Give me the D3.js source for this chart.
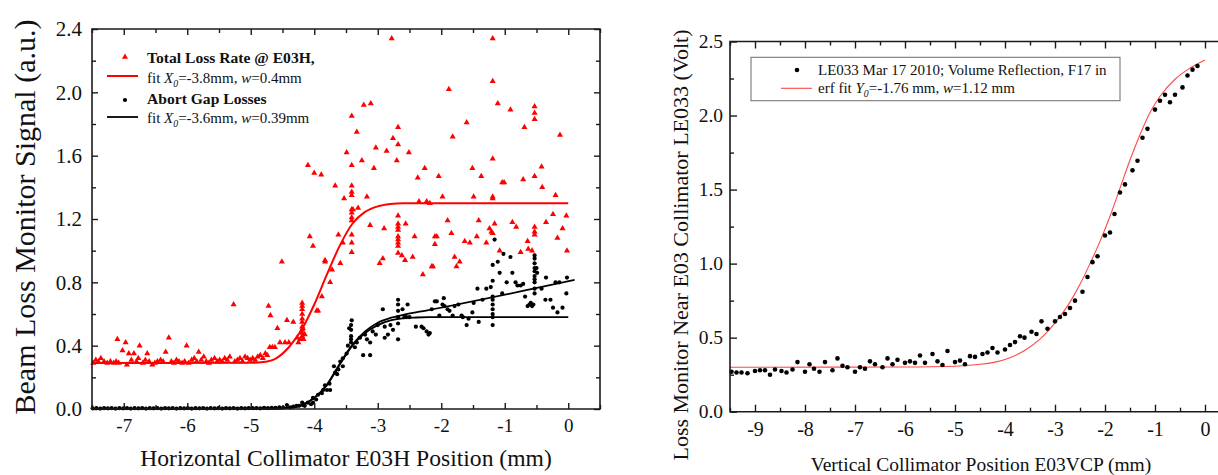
<!DOCTYPE html>
<html><head><meta charset="utf-8">
<script src="https://cdn.jsdelivr.net/npm/d3@7"></script>
<style>body{margin:0;background:#fff}svg{display:block}svg text{font-family:"Liberation Serif","Times New Roman",serif !important}</style>
</head><body><svg id="c" width="1218" height="475"></svg>
<script>
// ---------- LEFT PANEL DATA ----------
const leftXTicks = [-7,-6,-5,-4,-3,-2,-1,0];
const leftYTicks = [0,0.4,0.8,1.2,1.6,2.0,2.4];
const totalLoss = [[-7.48,0.29],[-7.44,0.31],[-7.40,0.30],[-7.36,0.32],[-7.31,0.30],[-7.26,0.29],[-7.21,0.30],[-7.16,0.29],[-7.12,0.30],[-7.08,0.29],[-7.10,0.44],[-7.02,0.37],[-6.97,0.42],[-6.95,0.28],[-6.92,0.35],[-6.88,0.31],[-6.84,0.35],[-6.80,0.30],[-6.75,0.40],[-6.77,0.32],[-6.70,0.29],[-6.66,0.31],[-6.63,0.35],[-6.60,0.30],[-6.55,0.28],[-6.51,0.29],[-6.47,0.30],[-6.42,0.31],[-6.38,0.30],[-6.34,0.36],[-6.29,0.45],[-6.25,0.30],[-6.21,0.29],[-6.17,0.31],[-6.13,0.30],[-6.08,0.29],[-6.04,0.30],[-6.01,0.40],[-5.98,0.29],[-5.93,0.31],[-5.89,0.32],[-5.85,0.30],[-5.82,0.36],[-5.78,0.31],[-5.74,0.33],[-5.70,0.30],[-5.66,0.29],[-5.62,0.31],[-5.57,0.32],[-5.53,0.30],[-5.49,0.31],[-5.45,0.30],[-5.41,0.32],[-5.37,0.31],[-5.33,0.33],[-5.27,0.66],[-5.25,0.30],[-5.21,0.31],[-5.17,0.32],[-5.13,0.30],[-5.09,0.33],[-5.05,0.32],[-5.01,0.31],[-4.97,0.32],[-4.93,0.31],[-4.89,0.33],[-4.85,0.34],[-4.81,0.32],[-4.77,0.35],[-4.74,0.34],
[-4.72,0.65],[-4.69,0.59],[-4.70,0.39],[-4.66,0.39],[-4.62,0.39],[-4.58,0.51],[-4.51,0.93],[-4.54,0.42],[-4.46,0.42],[-4.40,0.42],[-4.43,0.56],[-4.33,0.55],[-4.27,0.45],[-4.25,0.42],[-4.22,0.44],[-4.19,0.67],[-4.19,0.65],[-4.19,0.63],[-4.19,0.60],[-4.19,0.57],[-4.19,0.55],[-4.19,0.52],[-4.19,0.50],[-4.19,0.48],[-4.19,0.46],[-4.17,0.44],[-4.18,0.51],[-4.15,0.47],[-4.07,1.09],[-4.02,1.03],[-4.10,1.54],[-4.00,1.49],[-3.89,1.48],[-3.96,0.62],[-3.94,0.62],[-3.88,0.71],[-3.83,0.94],[-3.83,0.93],[-3.75,0.80],[-3.72,0.88],[-3.67,1.41],[-3.62,1.10],[-3.59,0.92],[-3.55,1.05],[-3.53,1.33],[-3.49,1.62],[-3.41,1.85],[-3.41,1.54],[-3.41,1.41],[-3.41,1.37],[-3.41,1.35],[-3.41,1.26],[-3.41,1.24],[-3.41,1.21],[-3.41,1.19],[-3.41,1.10],[-3.41,1.05],[-3.41,0.99],[-3.39,1.26],[-3.33,1.75],[-3.31,1.27],[-3.25,1.57],[-3.22,1.92],[-3.17,1.34],[-3.12,1.16],[-3.11,1.93],[-3.06,1.52],[-3.03,1.65],[-2.97,0.92],[-2.92,0.95],[-2.90,1.14],[-2.86,1.63],[-2.78,2.34],[-2.76,1.71],[-2.70,1.57],[-2.68,1.78],[-2.68,1.67],[-2.68,1.22],[-2.68,1.17],[-2.68,1.15],[-2.68,1.13],[-2.68,1.09],[-2.68,1.07],[-2.68,1.05],[-2.68,1.03],[-2.68,0.985],[-2.62,0.97],[-2.57,0.94],[-2.56,1.17],[-2.51,1.62],[-2.45,0.96],[-2.42,1.09],[-2.37,1.46],[-2.35,1.31],[-2.29,0.85],[-2.26,1.52],[-2.23,1.31],[-2.18,1.30],[-2.15,0.90],[-2.13,0.90],[-2.10,1.09],[-2.10,1.04],[-2.07,1.09],[-2.04,1.47],[-1.98,1.34],[-1.90,1.19],[-1.88,2.02],[-1.84,1.11],[-1.82,1.72],[-1.79,0.96],[-1.76,0.90],[-1.71,0.93],[-1.63,1.06],[-1.60,1.81],[-1.55,1.05],[-1.51,1.52],[-1.49,1.34],[-1.44,1.09],[-1.41,1.19],[-1.37,1.47],[-1.29,1.05],[-1.24,1.14],[-1.21,1.12],[-1.19,2.34],[-1.19,2.07],[-1.19,1.58],[-1.19,1.34],[-1.19,1.33],[-1.19,1.11],[-1.16,1.17],[-1.11,1.93],[-1.08,1.00],[-1.04,1.43],[-1.01,1.43],[-0.91,1.89],[-0.88,1.18],[-0.82,1.15],[-0.75,0.99],[-0.71,1.45],[-0.69,1.78],[-0.64,1.06],[-0.63,1.01],[-0.57,1.00],[-0.53,1.91],[-0.53,1.87],[-0.53,1.83],[-0.53,1.47],[-0.53,1.15],[-0.53,1.12],[-0.53,1.10],[-0.42,1.53],[-0.41,1.40],[-0.35,1.18],[-0.24,1.23],[-0.20,1.35],[-0.17,1.08],[-0.13,1.73],[-0.09,1.14],[-0.03,1.22],[-0.02,1.00]];
const abortGap = [[-7.49,0.004],[-7.43,0.006],[-7.37,0.003],[-7.31,0.005],[-7.25,0.004],[-7.19,0.006],[-7.13,0.003],[-7.07,0.005],[-7.01,0.004],[-6.95,0.006],[-6.89,0.003],[-6.83,0.005],[-6.77,0.004],[-6.71,0.006],[-6.65,0.003],[-6.59,0.005],[-6.53,0.004],[-6.47,0.006],[-6.41,0.003],[-6.35,0.005],[-6.29,0.004],[-6.23,0.006],[-6.17,0.003],[-6.11,0.005],[-6.05,0.004],[-5.99,0.006],[-5.93,0.003],[-5.87,0.005],[-5.81,0.004],[-5.75,0.006],[-5.69,0.003],[-5.63,0.005],[-5.57,0.004],[-5.51,0.006],[-5.45,0.003],[-5.39,0.005],[-5.33,0.004],[-5.27,0.006],[-5.21,0.003],[-5.15,0.005],[-5.09,0.004],[-5.03,0.006],[-4.97,0.005],[-4.91,0.006],[-4.85,0.004],[-4.79,0.007],[-4.73,0.006],[-4.67,0.008],[-4.61,0.007],[-4.55,0.010],[-4.49,0.009],
[-4.43,0.025],[-4.38,0.01],[-4.33,0.015],[-4.28,0.02],[-4.24,0.02],[-4.19,0.04],[-4.18,0.025],[-4.15,0.02],[-4.10,0.04],[-4.05,0.03],[-4.02,0.04],[-4.02,0.07],[-3.97,0.06],[-3.94,0.09],[-3.88,0.10],[-3.86,0.12],[-3.83,0.15],[-3.80,0.12],[-3.76,0.16],[-3.75,0.12],[-3.69,0.27],[-3.67,0.23],[-3.64,0.22],[-3.62,0.25],[-3.59,0.30],[-3.55,0.32],[-3.55,0.27],[-3.49,0.35],[-3.47,0.40],[-3.42,0.42],[-3.42,0.44],[-3.42,0.46],[-3.42,0.50],[-3.42,0.53],[-3.45,0.51],[-3.41,0.56],[-3.36,0.39],[-3.33,0.42],[-3.28,0.45],[-3.23,0.34],[-3.20,0.47],[-3.17,0.44],[-3.12,0.42],[-3.12,0.34],[-3.08,0.49],[-3.03,0.47],[-3.00,0.53],[-2.92,0.63],[-2.89,0.52],[-2.89,0.45],[-2.84,0.47],[-2.80,0.53],[-2.76,0.50],[-2.68,0.69],[-2.68,0.66],[-2.68,0.62],[-2.68,0.58],[-2.68,0.54],[-2.68,0.44],[-2.61,0.63],[-2.58,0.58],[-2.53,0.66],[-2.55,0.58],[-2.50,0.58],[-2.40,0.52],[-2.31,0.52],[-2.28,0.51],[-2.23,0.49],[-2.20,0.47],[-2.18,0.48],[-2.15,0.63],[-2.10,0.68],[-2.07,0.68],[-2.03,0.59],[-1.96,0.70],[-1.98,0.66],[-1.95,0.65],[-1.90,0.63],[-1.87,0.62],[-1.82,0.59],[-1.79,0.65],[-1.73,0.66],[-1.68,0.59],[-1.66,0.58],[-1.60,0.53],[-1.57,0.57],[-1.51,0.61],[-1.49,0.67],[-1.43,0.76],[-1.41,0.55],[-1.35,0.69],[-1.29,0.76],[-1.22,0.77],[-1.19,0.81],[-1.19,0.91],[-1.19,0.71],[-1.19,0.69],[-1.19,0.66],[-1.19,0.63],[-1.19,0.60],[-1.19,0.58],[-1.19,0.53],[-1.16,1.07],[-1.11,0.93],[-1.08,0.86],[-1.04,0.73],[-1.02,0.98],[-0.97,0.80],[-0.91,0.96],[-0.88,0.86],[-0.83,0.80],[-0.80,0.78],[-0.75,0.78],[-0.71,0.79],[-0.68,0.71],[-0.64,0.65],[-0.61,0.66],[-0.59,0.67],[-0.57,0.65],[-0.55,0.66],[-0.53,0.97],[-0.53,0.95],[-0.53,0.92],[-0.53,0.89],[-0.53,0.87],[-0.53,0.84],[-0.53,0.82],[-0.53,0.80],[-0.53,0.76],[-0.53,0.73],[-0.50,0.89],[-0.49,0.86],[-0.42,0.76],[-0.35,0.83],[-0.36,0.69],[-0.28,0.69],[-0.24,0.64],[-0.17,0.61],[-0.20,0.80],[-0.14,0.80],[-0.09,0.64],[-0.03,0.73],[-0.02,0.83]];
const totalLossFit = [[-7.5,0.29],[-5.0,0.292],[-4.8,0.297],[-4.6,0.32],[-4.4,0.39],[-4.2,0.50],[-4.0,0.66],[-3.8,0.85],[-3.6,1.03],[-3.4,1.17],[-3.2,1.245],[-3.0,1.28],[-2.8,1.295],[-2.6,1.30],[0,1.30]];
const abortFitFlat = [[-7.5,0.0],[-4.6,0.002],[-4.4,0.008],[-4.2,0.025],[-4.0,0.07],[-3.8,0.15],[-3.6,0.28],[-3.4,0.40],[-3.2,0.48],[-3.0,0.53],[-2.8,0.56],[-2.6,0.573],[-2.4,0.578],[-2.2,0.58],[0,0.58]];
const abortFitSlope = [[-7.5,0.0],[-4.6,0.002],[-4.4,0.008],[-4.2,0.025],[-4.0,0.07],[-3.8,0.155],[-3.6,0.285],[-3.4,0.405],[-3.2,0.49],[-3.0,0.545],[-2.8,0.575],[-2.6,0.595],[-2.2,0.625],[0.1,0.815]];

// ---------- RIGHT PANEL DATA ----------
const rightXTicks = [-9,-8,-7,-6,-5,-4,-3,-2,-1,0];
const rightYTicks = [0,0.5,1.0,1.5,2.0,2.5];
const le033 = [[-9.47,0.27],[-9.37,0.265],[-9.27,0.265],[-9.15,0.26],[-9.0,0.275],[-8.9,0.28],[-8.8,0.28],[-8.7,0.25],[-8.6,0.285],[-8.47,0.275],[-8.37,0.265],[-8.25,0.285],[-8.15,0.335],[-8.0,0.27],[-7.91,0.32],[-7.82,0.29],[-7.71,0.27],[-7.6,0.335],[-7.45,0.28],[-7.35,0.36],[-7.25,0.31],[-7.15,0.30],[-7.0,0.27],[-6.9,0.30],[-6.8,0.29],[-6.7,0.34],[-6.6,0.32],[-6.45,0.30],[-6.35,0.36],[-6.25,0.32],[-6.15,0.35],[-6.0,0.33],[-5.9,0.34],[-5.8,0.33],[-5.7,0.38],[-5.6,0.33],[-5.45,0.39],[-5.35,0.34],[-5.25,0.315],[-5.15,0.41],[-5.0,0.335],[-4.9,0.345],[-4.8,0.32],[-4.7,0.375],[-4.6,0.37],[-4.45,0.39],[-4.35,0.40],[-4.25,0.43],[-4.15,0.40],[-4.0,0.42],[-3.9,0.45],[-3.8,0.47],[-3.7,0.51],[-3.61,0.50],[-3.47,0.54],[-3.37,0.525],[-3.27,0.61],[-3.15,0.56],[-3.0,0.61],[-2.9,0.64],[-2.8,0.66],[-2.7,0.70],[-2.6,0.75],[-2.45,0.81],[-2.35,0.91],[-2.25,1.01],[-2.15,1.05],[-2.0,1.19],[-1.9,1.21],[-1.81,1.335],[-1.7,1.48],[-1.6,1.535],[-1.45,1.63],[-1.35,1.695],[-1.25,1.85],[-1.15,1.91],[-1.0,2.04],[-0.9,2.10],[-0.8,2.14],[-0.7,2.09],[-0.6,2.14],[-0.45,2.19],[-0.35,2.27],[-0.25,2.31],[-0.15,2.335]];
const le033Fit = [[-9.5,0.30],[-6.0,0.302],[-5.0,0.307],[-4.5,0.32],[-4.2,0.335],[-3.9,0.365],[-3.6,0.415],[-3.3,0.49],[-3.0,0.60],[-2.7,0.74],[-2.5,0.86],[-2.3,1.0],[-2.1,1.15],[-1.9,1.32],[-1.7,1.51],[-1.5,1.70],[-1.3,1.87],[-1.1,2.02],[-0.9,2.13],[-0.6,2.245],[-0.3,2.32],[0,2.375]];

const SERIF = "'Liberation Serif','Times New Roman',serif";
const svg = d3.select("#c");
svg.append("rect").attr("width",1218).attr("height",475).attr("fill","#fff");
const AX = "#1a1a1a";

function styleLabels(a, fs) {
  a.attr("font-family", null).style("font-family", SERIF);
  a.selectAll("text").attr("font-size",fs).attr("fill","#111").style("font-family",SERIF);
}
function frameAxes(g, x, y, opt) {
  const [x0,x1] = x.range(), [y0,y1] = y.range();
  const fmtX = d => String(d);
  g.append("g").attr("transform",`translate(0,${y0})`)
    .call(d3.axisBottom(x).tickValues(opt.xt).tickFormat(fmtX).tickSize(-opt.maj).tickPadding(opt.xpad))
    .call(a=>{a.select(".domain").remove();styleLabels(a,opt.xfs);});
  g.append("g").attr("transform",`translate(0,${y0})`)
    .call(d3.axisBottom(x).tickValues(opt.xm).tickFormat("").tickSize(-opt.min))
    .call(a=>a.select(".domain").remove());
  g.append("g").attr("transform",`translate(0,${y1})`)
    .call(d3.axisTop(x).tickValues(opt.xt).tickFormat("").tickSize(-opt.maj))
    .call(a=>a.select(".domain").remove());
  g.append("g").attr("transform",`translate(0,${y1})`)
    .call(d3.axisTop(x).tickValues(opt.xm).tickFormat("").tickSize(-opt.min))
    .call(a=>a.select(".domain").remove());
  g.append("g").attr("transform",`translate(${x0},0)`)
    .call(d3.axisLeft(y).tickValues(opt.yt).tickFormat(d3.format(".1f")).tickSize(-opt.maj).tickPadding(opt.ypad))
    .call(a=>{a.select(".domain").remove();styleLabels(a,opt.yfs);});
  g.append("g").attr("transform",`translate(${x0},0)`)
    .call(d3.axisLeft(y).tickValues(opt.ym).tickFormat("").tickSize(-opt.min))
    .call(a=>a.select(".domain").remove());
  if (opt.right) {
    g.append("g").attr("transform",`translate(${x1},0)`)
      .call(d3.axisRight(y).tickValues(opt.yt).tickFormat("").tickSize(-opt.maj))
      .call(a=>a.select(".domain").remove());
    g.append("g").attr("transform",`translate(${x1},0)`)
      .call(d3.axisRight(y).tickValues(opt.ym).tickFormat("").tickSize(-opt.min))
      .call(a=>a.select(".domain").remove());
  }
  g.selectAll(".tick line").attr("stroke",AX).attr("stroke-width",1.4);
  const p = opt.right ? `M${x0},${y1}H${x1}V${y0}H${x0}Z` : `M${x1},${y1}H${x0}V${y0}H${x1}`;
  g.append("path").attr("d",p).attr("fill","none").attr("stroke",AX).attr("stroke-width",1.6);
}

// ---------- LEFT ----------
const xL = d3.scaleLinear([-7.5,0.5],[92,600]);
const yL = d3.scaleLinear([0,2.4],[409,29]);
const gL = svg.append("g");
const lineL = d3.line().x(d=>xL(d[0])).y(d=>yL(d[1])).curve(d3.curveMonotoneX);
gL.append("path").datum(totalLossFit).attr("d",lineL).attr("fill","none").attr("stroke","#ff0000").attr("stroke-width",2);
gL.append("path").datum(abortFitFlat).attr("d",lineL).attr("fill","none").attr("stroke","#000").attr("stroke-width",1.8);
gL.append("path").datum(abortFitSlope).attr("d",lineL).attr("fill","none").attr("stroke","#000").attr("stroke-width",1.8);
const tri = d3.symbol().type(d3.symbolTriangle).size(16);
gL.append("g").selectAll("path").data(totalLoss).join("path")
  .attr("d",tri).attr("transform",d=>`translate(${xL(d[0])},${yL(d[1])})`).attr("fill","#ff0000");
gL.append("g").selectAll("circle").data(abortGap).join("circle")
  .attr("cx",d=>xL(d[0])).attr("cy",d=>yL(d[1])).attr("r",2.1).attr("fill","#000");
frameAxes(gL, xL, yL, {xt:leftXTicks, xm:d3.range(-7.5,0.51,0.5).filter(v=>!Number.isInteger(v)), yt:leftYTicks, ym:[0.2,0.6,1.0,1.4,1.8,2.2], maj:6, min:4, xpad:10, ypad:10, xfs:19, yfs:21, right:true});
gL.append("text").attr("x",346).attr("y",466).attr("text-anchor","middle").attr("font-size",23.6).attr("fill","#111").text("Horizontal Collimator E03H Position (mm)");
gL.append("text").attr("transform","translate(35,217) rotate(-90)").attr("text-anchor","middle").attr("font-size",30).attr("fill","#111").text("Beam Loss Monitor Signal (a.u.)");
// legend
gL.append("path").attr("d",tri).attr("transform","translate(125,57)").attr("fill","#ff0000");
gL.append("text").attr("x",147).attr("y",63).attr("font-size",15.6).attr("font-weight","bold").attr("fill","#111").text("Total Loss Rate @ E03H,");
gL.append("line").attr("x1",107).attr("x2",138).attr("y1",76).attr("y2",76).attr("stroke","#ff0000").attr("stroke-width",2);
function fitText(g, x, y, sym, pre, mid, post, fs) {
  const t = g.append("text").attr("x",x).attr("y",y).attr("font-size",fs).attr("fill","#111");
  t.append("tspan").text(pre);
  t.append("tspan").attr("font-style","italic").text(sym);
  t.append("tspan").attr("font-style","italic").attr("font-size",fs*0.65).attr("dy",4).text("0");
  t.append("tspan").attr("dy",-4).text(mid);
  t.append("tspan").attr("font-style","italic").text("w");
  t.append("tspan").text(post);
}
fitText(gL,147,83,"X","fit ","=-3.8mm, ","=0.4mm",15);
gL.append("circle").attr("cx",125).attr("cy",100).attr("r",2.1).attr("fill","#000");
gL.append("text").attr("x",147).attr("y",104).attr("font-size",15.6).attr("font-weight","bold").attr("fill","#111").text("Abort Gap Losses");
gL.append("line").attr("x1",107).attr("x2",138).attr("y1",117).attr("y2",117).attr("stroke","#000").attr("stroke-width",1.8);
fitText(gL,147,123,"X","fit ","=-3.6mm, ","=0.39mm",15);

// ---------- RIGHT ----------
const xR = d3.scaleLinear([-9.5,0.26],[730,1218]);
const yR = d3.scaleLinear([0,2.5],[411.7,41.5]);
const gR = svg.append("g");
const lineR = d3.line().x(d=>xR(d[0])).y(d=>yR(d[1])).curve(d3.curveMonotoneX);
gR.append("path").datum(le033Fit).attr("d",lineR).attr("fill","none").attr("stroke","#ff4848").attr("stroke-width",1.1);
gR.append("g").selectAll("circle").data(le033).join("circle")
  .attr("cx",d=>xR(d[0])).attr("cy",d=>yR(d[1])).attr("r",2.3).attr("fill","#000");
frameAxes(gR, xR, yR, {xt:rightXTicks, xm:d3.range(-9.5,0.1,1), yt:rightYTicks, ym:[0.25,0.75,1.25,1.75,2.25], maj:7, min:4, xpad:10, ypad:7, xfs:20, yfs:19.5, right:false});
gR.append("text").attr("x",981).attr("y",470.5).attr("text-anchor","middle").attr("font-size",19.5).attr("fill","#111").text("Vertical Collimator Position E03VCP (mm)");
gR.append("text").attr("transform","translate(688,245) rotate(-90)").attr("text-anchor","middle").attr("font-size",22).attr("fill","#111").text("Loss Monitor Near E03 Collimator LE033 (Volt)");
// legend
gR.append("rect").attr("x",751).attr("y",57.3).attr("width",369).attr("height",43.4).attr("fill","#fff").attr("stroke","#777").attr("stroke-width",1.1);
gR.append("circle").attr("cx",797).attr("cy",70).attr("r",2.3).attr("fill","#000");
gR.append("text").attr("x",818).attr("y",75).attr("font-size",15).attr("fill","#111").text("LE033 Mar 17 2010; Volume Reflection, F17 in");
gR.append("line").attr("x1",781).attr("x2",812).attr("y1",88.3).attr("y2",88.3).attr("stroke","#ff4848").attr("stroke-width",1.1);
fitText(gR,818,93.3,"Y","erf fit ","=-1.76 mm, ","=1.12 mm",15);
</script></body></html>
